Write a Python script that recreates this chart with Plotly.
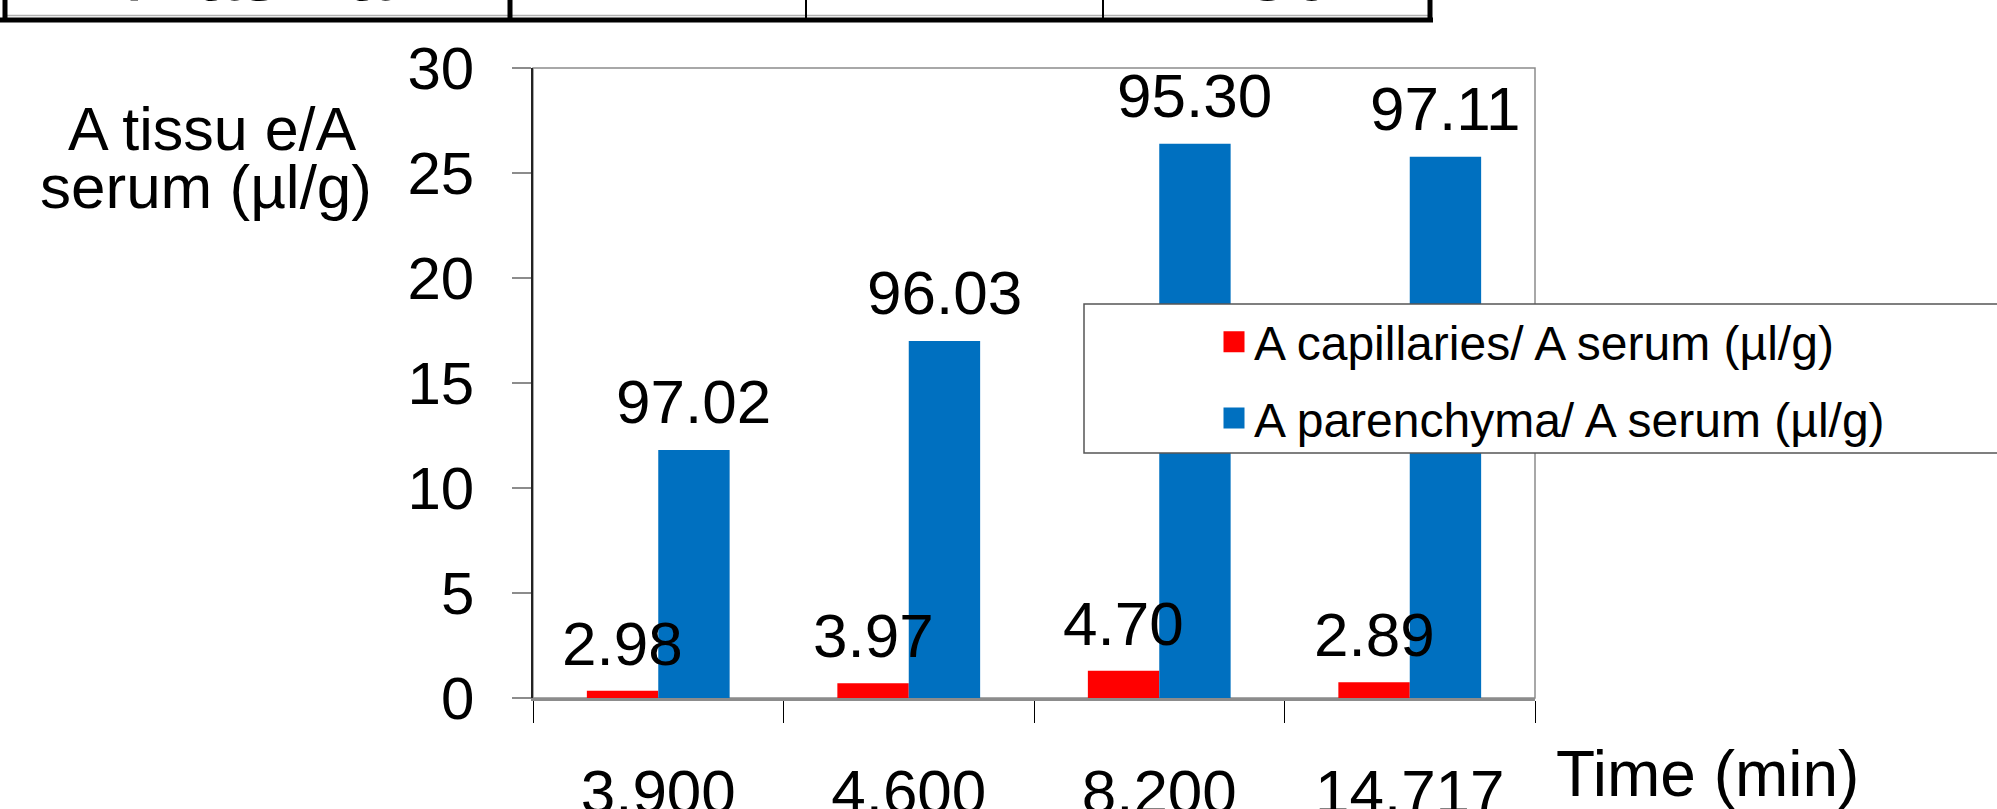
import plotly.graph_objects as go

# ---- data ----
categories = ["3.900", "4.600", "8.200", "14.717"]
cap_values = [0.35, 0.70, 1.30, 0.75]
par_values = [11.81, 17.0, 26.39, 25.77]
cap_labels = ["2.98", "3.97", "4.70", "2.89"]
par_labels = ["97.02", "96.03", "95.30", "97.11"]
series_names = ["A capillaries/ A serum (µl/g)", "A parenchyma/ A serum (µl/g)"]
y_ticks = [0, 5, 10, 15, 20, 25, 30]
table_texts = ["Plasma", "1", "1", "30"]

# ---- geometry / style ----
W, H = 1997, 809
L, R, T, B = 533, 462, 68, 111
PW, PH = W - L - R, H - T - B
FONT = "Liberation Sans, Arial, sans-serif"
RED, BLUE = "#FF0000", "#0070C0"


def px_x(px):
    return (px - L) / PW


def px_y(py):
    return (H - B - py) / PH


fig = go.Figure()
fig.add_trace(go.Bar(x=categories, y=cap_values, name=series_names[0],
                     marker=dict(color=RED, line=dict(width=0)), showlegend=False))
fig.add_trace(go.Bar(x=categories, y=par_values, name=series_names[1],
                     marker=dict(color=BLUE, line=dict(width=0)), showlegend=False))
# legend entries
for nm, col, grp in [(series_names[0], RED, "a"), (series_names[1], BLUE, "b")]:
    fig.add_trace(go.Scatter(x=[None], y=[None], mode="markers", name=nm, legendgroup=grp,
                             marker=dict(symbol="square", size=16, color=col,
                                         line=dict(color=col, width=5))))

annotations = []
for i, (v, lab) in enumerate(zip(cap_values, cap_labels)):
    annotations.append(dict(x=i, y=v, xref="x", yref="y", text=lab, showarrow=False,
                            xshift=-35.5, yshift=11, yanchor="bottom", xanchor="center",
                            font=dict(family=FONT, size=62, color="black")))
for i, (v, lab) in enumerate(zip(par_values, par_labels)):
    annotations.append(dict(x=i, y=v, xref="x", yref="y", text=lab, showarrow=False,
                            xshift=35.5, yshift=12, yanchor="bottom", xanchor="center",
                            font=dict(family=FONT, size=62, color="black")))
# axis titles
annotations.append(dict(x=px_x(1554), y=px_y(774), xref="paper", yref="paper", text="Time (min)",
                        showarrow=False, xanchor="left", yanchor="middle",
                        font=dict(family=FONT, size=64, color="black")))
annotations.append(dict(x=px_x(212), y=px_y(129), xref="paper", yref="paper", text="A tissu e/A",
                        showarrow=False, xanchor="center", yanchor="middle",
                        font=dict(family=FONT, size=61, color="black")))
annotations.append(dict(x=px_x(206), y=px_y(186), xref="paper", yref="paper", text="serum (µl/g)",
                        showarrow=False, xanchor="center", yanchor="middle",
                        font=dict(family=FONT, size=62, color="black")))
# table fragment text (mostly above the page)
for txt, cx in zip(table_texts, [257, 650, 960, 1289]):
    annotations.append(dict(x=px_x(cx), y=px_y(19), xref="paper", yref="paper", text=txt,
                            showarrow=False, xanchor="center", yanchor="bottom",
                            font=dict(family=FONT, size=80, color="black")))

shapes = []
# plot frame (top/right gray)
shapes.append(dict(type="rect", xref="paper", yref="paper", x0=0, x1=1, y0=0, y1=1,
                   line=dict(color="#8c8c8c", width=1.5), layer="below"))
# legend box
shapes.append(dict(type="rect", xref="paper", yref="paper", x0=px_x(1084), x1=px_x(2010),
                   y0=px_y(453), y1=px_y(304), line=dict(color="#555555", width=1.5),
                   fillcolor="white", layer="above"))
# table fragment lines
shapes.append(dict(type="line", xref="paper", yref="paper", x0=px_x(0), x1=px_x(1433),
                   y0=px_y(20), y1=px_y(20), line=dict(color="black", width=5)))
shapes.append(dict(type="line", xref="paper", yref="paper", x0=px_x(6), x1=px_x(1428),
                   y0=px_y(15.5), y1=px_y(15.5), line=dict(color="#b0b0b0", width=1.5)))
for xx, wd in [(5, 5), (510, 5), (806, 2), (1103, 2), (1430, 5)]:
    shapes.append(dict(type="line", xref="paper", yref="paper", x0=px_x(xx), x1=px_x(xx),
                       y0=px_y(-5), y1=px_y(22), line=dict(color="black", width=wd)))

fig.update_layout(
    width=W, height=H,
    margin=dict(l=L, r=R, t=T, b=B, autoexpand=False),
    paper_bgcolor="white", plot_bgcolor="white",
    barmode="group", bargap=0.43, bargroupgap=0,
    font=dict(family=FONT, color="black"),
    showlegend=True,
    legend=dict(x=px_x(1214), y=px_y(304), xanchor="left", yanchor="top",
                bgcolor="rgba(0,0,0,0)", borderwidth=0, traceorder="grouped",
                tracegroupgap=11, font=dict(family=FONT, size=48, color="black")),
    annotations=annotations,
    shapes=shapes,
)
fig.update_xaxes(type="category", categoryorder="array", categoryarray=categories,
                 range=[-0.5, len(categories) - 0.5], autorange=False,
                 showgrid=False, showline=True, linecolor="#8c8c8c", linewidth=2.5,
                 ticks="outside", tickson="boundaries", ticklen=22, tickwidth=1.2, tickcolor="black",
                 tickfont=dict(family=FONT, size=62, color="black"), ticklabelstandoff=38,
                 automargin=False, zeroline=False)
fig.update_yaxes(range=[0, 30], tickvals=y_ticks, showgrid=False, showline=True, linecolor="#222222",
                 linewidth=1.5, ticks="outside", ticklen=19, tickwidth=1.5, tickcolor="#8c8c8c",
                 tickfont=dict(family=FONT, size=60, color="black"), ticklabelstandoff=26,
                 automargin=False, zeroline=False)

fig.write_html("out.html")
